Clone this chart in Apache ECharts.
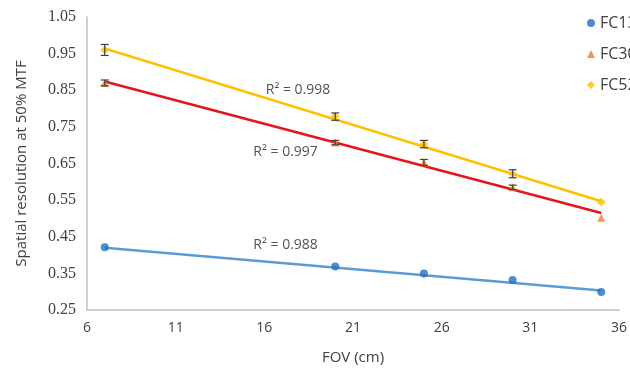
<!DOCTYPE html>
<html>
<head>
<meta charset="utf-8">
<script src="https://cdn.jsdelivr.net/npm/echarts@6/dist/echarts.min.js"></script>
<style>
  html, body { margin: 0; padding: 0; background: #fff; }
  #chart { width: 630px; height: 370px; }
</style>
</head>
<body>
<div id="chart"></div>
<script>
// FOV values (cm)
const fov = [7, 20, 25, 30, 35];

// measured spatial resolution at 50% MTF
const fc13 = [0.421, 0.369, 0.350, 0.332, 0.299];
const fc30 = [0.870, 0.707, 0.653, 0.585, 0.502];
const fc52 = [0.960, 0.778, 0.703, 0.622, 0.545];

// error bar half-heights
const fc30Err = [0.008, 0.006, 0.008, 0.006, 0];
const fc52Err = [0.015, 0.010, 0.010, 0.011, 0];

// linear trend lines, endpoints
const trendX = [7, 35];
const fc13Trend = [0.420, 0.303];
const fc30Trend = [0.874, 0.515];
const fc52Trend = [0.964, 0.547];

// R² annotations: [x, y, text]
const r2Labels = [
  [17.9, 0.852, 'R² = 0.998'],
  [17.2, 0.682, 'R² = 0.997'],
  [17.2, 0.428, 'R² = 0.988']
];

const xTicks = { min: 6, max: 36, interval: 5 };
const yTicks = { min: 0.25, max: 1.05, interval: 0.1 };

const colors = {
  fc13Line: '#5B9BD5', fc13Dot: '#2270C0',
  fc30Line: '#E8141B', fc30Dot: '#ED7D31',
  fc52Line: '#FFC000', fc52Dot: '#FFC000'
};

const pairs = (xs, ys) => xs.map((x, i) => [x, ys[i]]);
const errData = (ys, errs) => fov.map((x, i) => [x, ys[i], errs[i]]);

const errRender = (params, api) => {
  const x = api.value(0), y = api.value(1), e = api.value(2);
  if (!e) return null;
  const top = api.coord([x, y + e]);
  const bot = api.coord([x, y - e]);
  const w = 4;
  const style = { stroke: '#404040', lineWidth: 1.2 };
  return {
    type: 'group',
    children: [
      { type: 'line', shape: { x1: top[0], y1: top[1], x2: bot[0], y2: bot[1] }, style },
      { type: 'line', shape: { x1: top[0] - w, y1: top[1], x2: top[0] + w, y2: top[1] }, style },
      { type: 'line', shape: { x1: bot[0] - w, y1: bot[1], x2: bot[0] + w, y2: bot[1] }, style }
    ]
  };
};

const trend = (name, ys, color) => ({
  name, type: 'line', data: pairs(trendX, ys), showSymbol: false, symbol: 'none',
  lineStyle: { color, width: 2.5 }, z: 2, silent: true
});

const dots = (name, ys, symbol, color, size) => ({
  name, type: 'scatter', data: pairs(fov, ys), symbol, symbolSize: size,
  itemStyle: { color }, z: 4
});

const myChart = echarts.init(document.getElementById('chart'));
myChart.setOption({
  animation: false,
  textStyle: { fontFamily: 'Open Sans' },
  grid: { left: 87, right: 9, top: 17, bottom: 58 },
  legend: {
    data: ['FC13', 'FC30', 'FC52'],
    orient: 'vertical',
    left: 587,
    top: 15,
    padding: 0,
    itemWidth: 8,
    itemHeight: 8,
    itemGap: 15,
    textStyle: { fontSize: 16, color: '#404040', fontFamily: 'Open Sans' }
  },
  xAxis: {
    type: 'value',
    min: xTicks.min, max: xTicks.max, interval: xTicks.interval,
    name: 'FOV (cm)', nameLocation: 'middle', nameGap: 40,
    nameTextStyle: { fontSize: 15, color: '#404040' },
    axisLine: { lineStyle: { color: '#BFBFBF', width: 1.5 } },
    axisTick: { show: false },
    splitLine: { show: false },
    axisLabel: { fontSize: 14, color: '#404040', margin: 11 }
  },
  yAxis: {
    type: 'value',
    min: yTicks.min, max: yTicks.max, interval: yTicks.interval,
    name: 'Spatial resolution at 50% MTF', nameLocation: 'middle', nameGap: 58,
    nameTextStyle: { fontSize: 15, color: '#404040' },
    axisLine: { show: true, lineStyle: { color: '#BFBFBF', width: 1.5 } },
    axisTick: { show: false },
    splitLine: { show: false },
    axisLabel: {
      fontSize: 16, color: '#404040', margin: 11, fontFamily: '"Liberation Serif", "DejaVu Serif", serif',
      formatter: v => v.toFixed(2)
    }
  },
  series: [
    trend('FC13 trend', fc13Trend, colors.fc13Line),
    trend('FC30 trend', fc30Trend, colors.fc30Line),
    trend('FC52 trend', fc52Trend, colors.fc52Line),
    dots('FC13', fc13, 'circle', colors.fc13Dot, 8),
    dots('FC30', fc30, 'triangle', colors.fc30Dot, 8),
    dots('FC52', fc52, 'diamond', colors.fc52Dot, 9),
    { name: 'FC30 err', type: 'custom', data: errData(fc30, fc30Err), renderItem: errRender, z: 5, silent: true },
    { name: 'FC52 err', type: 'custom', data: errData(fc52, fc52Err), renderItem: errRender, z: 5, silent: true },
    {
      name: 'R2', type: 'scatter', data: r2Labels.map(d => ({ value: [d[0], d[1]], label: { formatter: d[2] } })),
      symbolSize: 0, silent: true, z: 6,
      label: { show: true, position: 'inside', fontSize: 14, color: '#262626', fontFamily: 'Open Sans' }
    }
  ]
});
</script>
</body>
</html>
